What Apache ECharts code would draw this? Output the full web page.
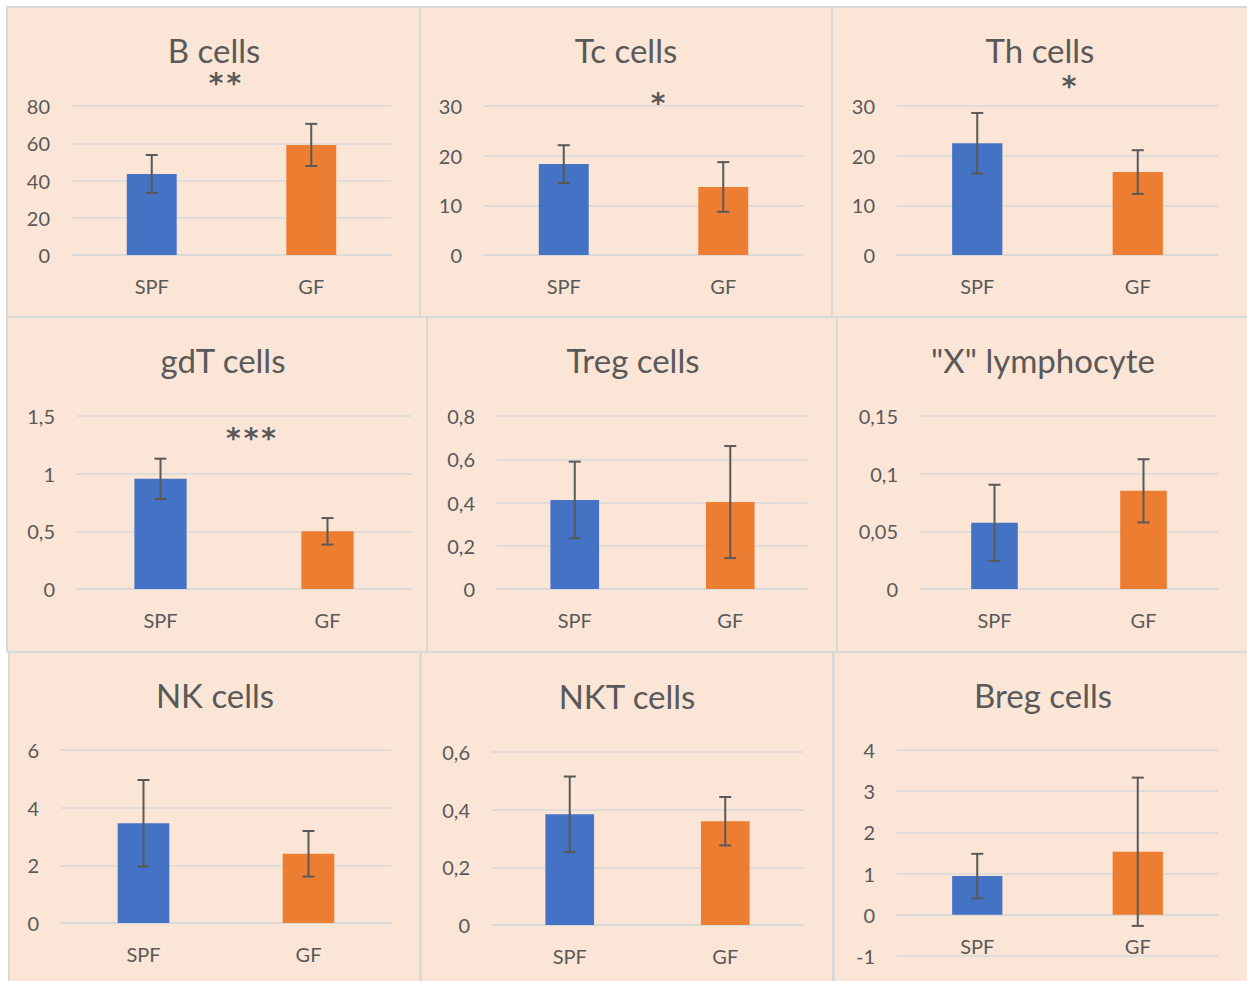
<!DOCTYPE html>
<html>
<head>
<meta charset="utf-8">
<title>Lymphocyte populations, SPF vs GF</title>
<script src="https://cdn.jsdelivr.net/npm/echarts@6/dist/echarts.min.js"></script>
<style>
  html, body { margin: 0; padding: 0; background: #fff; }
  #wrap { position: relative; width: 1247px; height: 981px; overflow: hidden; }
  .panel { position: absolute; box-sizing: border-box; background: #FBE5D6; border: 2px solid #D9D9D9; }
  #chart { position: absolute; left: 0; top: 0; width: 1247px; height: 981px; }
</style>
</head>
<body>
<div id="wrap"><div id="chart"></div></div>
<script>
// data
const titles = ['B cells', 'Tc cells', 'Th cells', 'gdT cells', 'Treg cells', '"X" lymphocyte', 'NK cells', 'NKT cells', 'Breg cells']
const groups = ['SPF', 'GF']
const spfMean = [43.5, 18.3, 22.5, 0.955, 0.412, 0.0574, 3.46, 0.384, 0.94]
const spfErr = [10.2, 3.8, 6.1, 0.175, 0.177, 0.033, 1.5, 0.131, 0.54]
const gfMean = [59.1, 13.7, 16.7, 0.5, 0.402, 0.0851, 2.4, 0.36, 1.53]
const gfErr = [11.3, 5.0, 4.4, 0.115, 0.259, 0.0274, 0.79, 0.084, 1.8]
const yMin = [0, 0, 0, 0, 0, 0, 0, 0, -1]
const yMax = [80, 30, 30, 1.5, 0.8, 0.15, 6, 0.6, 4]
const yStep = [20, 10, 10, 0.5, 0.2, 0.05, 2, 0.2, 1]
const stars = ['**', '*', '*', '***', '', '', '', '', '']

// layout of the 3x3 sheet (border lines x1, y1, x2, y2)
const panelBox = [
  [7, 7, 420, 317], [420, 7, 832, 317], [832, 7, 1248, 317],
  [7, 317, 427, 652], [427, 317, 837, 652], [837, 317, 1248, 652],
  [9, 652, 420, 983], [421, 652, 833, 983], [834, 652, 1248, 983]
]
// plot areas: left, top, width, height
const gridBox = [
  [72, 106, 319, 149], [484, 106, 319, 149], [897, 106, 321, 149],
  [77, 416, 334, 173], [497, 416, 311, 173], [920, 416, 298, 173],
  [61, 750, 330, 173], [492, 752, 311, 173], [897, 750, 321, 206]
]
const titlePos = [
  [214, 50], [626, 50], [1040, 50],
  [223, 360], [633, 360], [1043, 360],
  [215, 695], [627, 696], [1043, 695]
]
const starPos = [[225, 77], [658, 97], [1069, 80], [251, 432], null, null, null, null, null]

const SPF_COLOR = '#4472C4'
const GF_COLOR = '#ED7D31'
const TEXT = '#595959'
const GRIDLINE = '#D9D9D9'
const FONT = 'Lato'

// panel backgrounds
const wrap = document.getElementById('wrap')
panelBox.forEach(b => {
  const d = document.createElement('div')
  d.className = 'panel'
  d.style.left = (b[0] - 1) + 'px'
  d.style.top = (b[1] - 1) + 'px'
  d.style.width = (b[2] - b[0] + 2) + 'px'
  d.style.height = (b[3] - b[1] + 2) + 'px'
  wrap.insertBefore(d, wrap.firstChild)
})

const decimalComma = v => String(v).replace('.', ',')

function renderErrorBar(params, api) {
  const cat = api.value(0)
  const lo = api.coord([cat, api.value(1)])
  const hi = api.coord([cat, api.value(2)])
  const cap = 6
  const style = { stroke: TEXT, lineWidth: 2 }
  return {
    type: 'group',
    children: [
      { type: 'line', shape: { x1: hi[0], y1: hi[1], x2: lo[0], y2: lo[1] }, style },
      { type: 'line', shape: { x1: hi[0] - cap, y1: hi[1], x2: hi[0] + cap, y2: hi[1] }, style },
      { type: 'line', shape: { x1: lo[0] - cap, y1: lo[1], x2: lo[0] + cap, y2: lo[1] }, style }
    ]
  }
}

const grid = [], xAxis = [], yAxis = [], series = [], title = [], graphic = []

titles.forEach((name, i) => {
  const g = gridBox[i]
  grid.push({ left: g[0], top: g[1], width: g[2], height: g[3], containLabel: false, outerBoundsMode: 'none' })

  // category labels sit on the zero line, as in Excel (matters for the Breg panel)
  const zeroOffset = -g[3] * (0 - yMin[i]) / (yMax[i] - yMin[i])

  xAxis.push({
    type: 'category',
    gridIndex: i,
    data: groups,
    offset: zeroOffset,
    axisTick: { show: false },
    axisLine: { show: true, onZero: false, lineStyle: { color: GRIDLINE, width: 1.5 } },
    axisLabel: { color: TEXT, fontSize: 20, fontFamily: FONT, margin: 21 }
  })

  yAxis.push({
    type: 'value',
    gridIndex: i,
    min: yMin[i],
    max: yMax[i],
    interval: yStep[i],
    axisLine: { show: false },
    axisTick: { show: false },
    splitLine: { lineStyle: { color: GRIDLINE, width: 1.5 } },
    axisLabel: { color: TEXT, fontSize: 20, fontFamily: FONT, margin: 22, formatter: decimalComma }
  })

  series.push({
    name: name,
    type: 'bar',
    xAxisIndex: i,
    yAxisIndex: i,
    barWidth: '31.3%',
    silent: true,
    data: [
      { value: spfMean[i], itemStyle: { color: SPF_COLOR } },
      { value: gfMean[i], itemStyle: { color: GF_COLOR } }
    ]
  })

  series.push({
    name: name + ' error',
    type: 'custom',
    xAxisIndex: i,
    yAxisIndex: i,
    z: 5,
    silent: true,
    encode: { x: 0, y: [1, 2] },
    renderItem: renderErrorBar,
    data: [
      [0, spfMean[i] - spfErr[i], spfMean[i] + spfErr[i]],
      [1, gfMean[i] - gfErr[i], gfMean[i] + gfErr[i]]
    ]
  })

  title.push({
    text: name,
    left: titlePos[i][0],
    top: titlePos[i][1],
    textAlign: 'center',
    textVerticalAlign: 'middle',
    padding: 0,
    textStyle: { color: TEXT, fontSize: 33, lineHeight: 30, fontWeight: 'normal', fontFamily: FONT }
  })

  // significance marks, one glyph each (Excel spaces them ~18px apart)
  const s = stars[i]
  if (s && starPos[i]) {
    for (let k = 0; k < s.length; k++) {
      graphic.push({
        type: 'text',
        x: starPos[i][0] + (k - (s.length - 1) / 2) * 17.7,
        y: starPos[i][1] + 6,
        style: {
          text: '*',
          fill: TEXT,
          font: 'bold 28px "DejaVu Sans"',
          align: 'center',
          verticalAlign: 'middle'
        }
      })
    }
  }
})

const chart = echarts.init(document.getElementById('chart'), null, { renderer: 'svg' })
chart.setOption({
  backgroundColor: 'transparent',
  animation: false,
  title,
  grid,
  xAxis,
  yAxis,
  series,
  graphic
})
</script>
</body>
</html>
